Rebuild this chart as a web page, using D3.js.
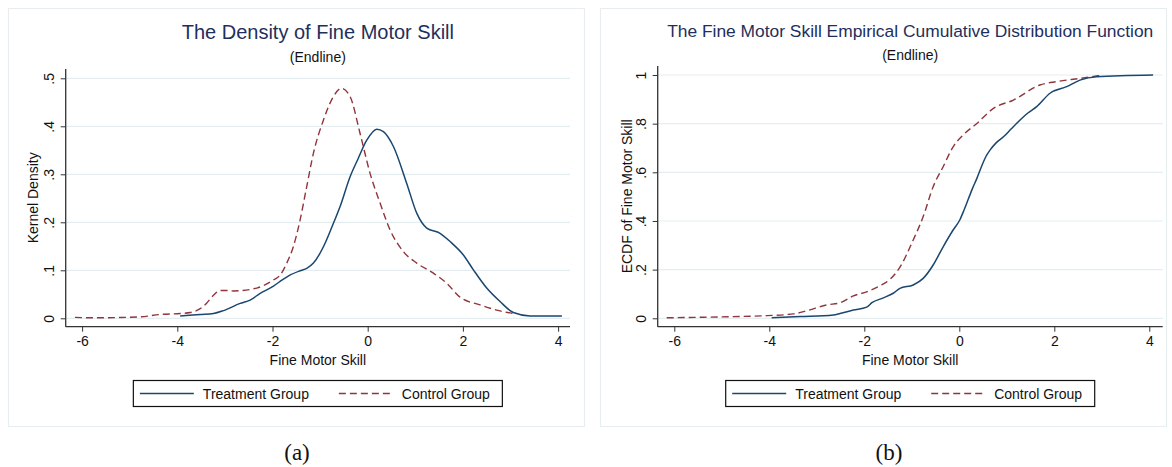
<!DOCTYPE html>
<html>
<head>
<meta charset="utf-8">
<script src="https://cdn.jsdelivr.net/npm/d3@7"></script>
<style>
  html, body { margin: 0; padding: 0; background: #ffffff; }
  svg { display: block; }
</style>
</head>
<body>
<svg id="chart" width="1172" height="467"></svg>
<script>
// ---------------- DATA ----------------
const xTicks = [-6, -4, -2, 0, 2, 4];
const densityTicks = [0, 0.1, 0.2, 0.3, 0.4, 0.5];
const ecdfTicks = [0, 0.2, 0.4, 0.6, 0.8, 1];
const seriesNames = ["Treatment Group", "Control Group"];

// Kernel density, treatment group  [skill, density]
const treatmentDensity = [
  [-3.94,0.005],[-3.52,0.008],[-3.24,0.010],[-3.03,0.016],[-2.68,0.031],[-2.47,0.038],
  [-2.26,0.052],[-1.98,0.067],[-1.84,0.077],[-1.67,0.088],[-1.42,0.099],[-1.28,0.104],
  [-1.14,0.115],[-0.93,0.149],[-0.72,0.198],[-0.58,0.233],[-0.37,0.295],[-0.20,0.333],
  [-0.02,0.371],[0.19,0.394],[0.33,0.389],[0.54,0.358],[0.82,0.281],[1.03,0.219],
  [1.24,0.188],[1.52,0.177],[1.73,0.160],[2.01,0.132],[2.22,0.101],[2.50,0.063],
  [2.78,0.035],[3.06,0.012],[3.41,0.005],[4.08,0.005]
];
// Kernel density, control group
const controlDensity = [
  [-6.15,0.002],[-5.76,0.001],[-4.78,0.003],[-4.36,0.008],[-3.94,0.010],[-3.73,0.012],
  [-3.52,0.020],[-3.38,0.032],[-3.24,0.048],[-3.10,0.058],[-2.96,0.058],[-2.82,0.057],
  [-2.33,0.063],[-1.98,0.080],[-1.84,0.090],[-1.70,0.115],[-1.56,0.150],[-1.42,0.205],
  [-1.28,0.275],[-1.14,0.344],[-0.93,0.413],[-0.72,0.462],[-0.55,0.479],[-0.37,0.462],
  [-0.16,0.385],[0.05,0.302],[0.26,0.240],[0.47,0.184],[0.75,0.139],[1.03,0.115],
  [1.38,0.094],[1.66,0.073],[1.94,0.044],[2.36,0.028],[2.71,0.017],[3.06,0.010]
];
// ECDF, treatment group [skill, cumulative share]
const treatmentEcdf = [
  [-3.95,0.002],[-3.35,0.007],[-2.65,0.014],[-2.51,0.020],[-2.23,0.034],[-1.95,0.046],
  [-1.84,0.064],[-1.60,0.084],[-1.39,0.103],[-1.25,0.123],[-0.97,0.137],[-0.76,0.164],
  [-0.55,0.219],[-0.34,0.294],[-0.13,0.363],[0.01,0.404],[0.10,0.445],[0.19,0.490],
  [0.28,0.535],[0.37,0.575],[0.47,0.625],[0.56,0.665],[0.65,0.692],[0.78,0.722],
  [0.93,0.746],[1.10,0.780],[1.28,0.815],[1.45,0.845],[1.63,0.870],[1.91,0.925],
  [2.26,0.952],[2.54,0.979],[2.89,0.993],[4.08,1.0]
];
// ECDF, control group
const controlEcdf = [
  [-6.16,0.002],[-4.76,0.007],[-4.05,0.011],[-3.49,0.018],[-3.21,0.031],[-2.79,0.055],
  [-2.51,0.064],[-2.23,0.092],[-1.95,0.109],[-1.67,0.134],[-1.46,0.160],[-1.25,0.210],
  [-0.97,0.322],[-0.76,0.418],[-0.55,0.541],[-0.34,0.623],[-0.13,0.705],[0.08,0.753],
  [0.37,0.801],[0.72,0.863],[1.14,0.897],[1.70,0.959],[2.05,0.973],[2.54,0.986],[3.03,1.0]
];

// ---------------- STYLE ----------------
const FONT = "'Liberation Sans', Arial, Helvetica, sans-serif";
const TITLE_COLOR = "#1f2f5c";
const TREAT_COLOR = "#1a476f";
const CONTROL_COLOR = "#90353b";
const GRID_COLOR = "#e4eef0";
const AXIS_COLOR = "#333333";

const svg = d3.select("#chart");
svg.append("rect").attr("width", 1172).attr("height", 467).attr("fill", "#ffffff");

const stataFmt = d => d === 0 ? "0" : (d === 1 ? "1" : d3.format(".1f")(d).replace(/^0/, ""));
const plainInt = d => String(d);

function panel(cfg) {
  const g = svg.append("g");
  g.append("rect")
    .attr("x", cfg.box[0] + 0.5).attr("y", cfg.box[1] + 0.5)
    .attr("width", cfg.box[2]).attr("height", cfg.box[3])
    .attr("fill", "none").attr("stroke", "#e6eef0").attr("stroke-width", 1.2);

  const x = d3.scaleLinear().domain([-6, 4]).range(cfg.xRange);
  const y = d3.scaleLinear().domain([0, cfg.yMax]).range(cfg.yRange);

  g.append("g").selectAll("line").data(cfg.yTicks).join("line")
    .attr("x1", cfg.plotLeft).attr("x2", cfg.plotRight)
    .attr("y1", d => y(d)).attr("y2", d => y(d))
    .attr("stroke", GRID_COLOR).attr("stroke-width", 1.2);

  const xa = g.append("g")
    .attr("transform", `translate(0,${cfg.axisY})`)
    .call(d3.axisBottom(x).tickValues(xTicks).tickSize(5).tickPadding(4)
      .tickFormat(plainInt).tickSizeOuter(0));
  xa.select(".domain").remove();
  xa.append("line").attr("x1", cfg.plotLeft).attr("x2", cfg.plotRight)
    .attr("y1", 0).attr("y2", 0).attr("stroke", AXIS_COLOR).attr("stroke-width", 1.3);
  xa.selectAll(".tick line").attr("stroke", AXIS_COLOR);
  xa.selectAll(".tick text").attr("fill", "#111").style("font-family", FONT).style("font-size", "14px");

  const ya = g.append("g")
    .attr("transform", `translate(${cfg.plotLeft},0)`)
    .call(d3.axisLeft(y).tickValues(cfg.yTicks).tickSize(5).tickFormat(stataFmt).tickSizeOuter(0));
  ya.select(".domain").remove();
  ya.append("line").attr("x1", 0).attr("x2", 0)
    .attr("y1", cfg.axisTop).attr("y2", cfg.axisY).attr("stroke", AXIS_COLOR).attr("stroke-width", 1.3);
  ya.selectAll(".tick line").attr("stroke", AXIS_COLOR);
  ya.selectAll(".tick text")
    .attr("transform", "rotate(-90)")
    .attr("x", 0).attr("y", -12).attr("dy", 0)
    .attr("text-anchor", "middle")
    .attr("fill", "#111").style("font-family", FONT).style("font-size", "14px");

  const line = d3.line().x(d => x(d[0])).y(d => y(d[1])).curve(d3.curveMonotoneX);
  g.append("path").datum(cfg.control).attr("d", line)
    .attr("fill", "none").attr("stroke", CONTROL_COLOR).attr("stroke-width", 1.4)
    .attr("stroke-dasharray", "7,4");
  g.append("path").datum(cfg.treatment).attr("d", line)
    .attr("fill", "none").attr("stroke", TREAT_COLOR).attr("stroke-width", 1.5);

  const cx = (cfg.plotLeft + cfg.plotRight) / 2;
  g.append("text").attr("x", cx).attr("y", cfg.titleY).attr("text-anchor", "middle")
    .attr("fill", TITLE_COLOR).style("font-family", FONT).style("font-size", cfg.titleSize + "px")
    .text(cfg.title);
  g.append("text").attr("x", cx).attr("y", cfg.subY).attr("text-anchor", "middle")
    .attr("fill", "#111").style("font-family", FONT).style("font-size", "14px")
    .text("(Endline)");

  g.append("text").attr("x", cx).attr("y", 365).attr("text-anchor", "middle")
    .attr("fill", "#111").style("font-family", FONT).style("font-size", "14px")
    .text("Fine Motor Skill");
  g.append("text")
    .attr("transform", `translate(${cfg.yTitleX},${(cfg.axisTop + cfg.axisY) / 2}) rotate(-90)`)
    .attr("text-anchor", "middle")
    .attr("fill", "#111").style("font-family", FONT).style("font-size", "14px")
    .text(cfg.yTitle);

  const lx = cx - 184.5, ly = 380.5;
  const lg = g.append("g");
  lg.append("rect").attr("x", lx).attr("y", ly).attr("width", 369).attr("height", 26)
    .attr("fill", "#fff").attr("stroke", "#111").attr("stroke-width", 1.2);
  lg.append("line").attr("x1", lx + 6.5).attr("x2", lx + 60.5).attr("y1", ly + 13).attr("y2", ly + 13)
    .attr("stroke", TREAT_COLOR).attr("stroke-width", 1.5);
  lg.append("text").attr("x", lx + 69.5).attr("y", ly + 18).attr("fill", "#111")
    .style("font-family", FONT).style("font-size", "14px").text(seriesNames[0]);
  lg.append("line").attr("x1", lx + 205.5).attr("x2", lx + 259.5).attr("y1", ly + 13).attr("y2", ly + 13)
    .attr("stroke", CONTROL_COLOR).attr("stroke-width", 1.4).attr("stroke-dasharray", "7,4");
  lg.append("text").attr("x", lx + 268.5).attr("y", ly + 18).attr("fill", "#111")
    .style("font-family", FONT).style("font-size", "14px").text(seriesNames[1]);

  svg.append("text").attr("x", cfg.captionX).attr("y", 460).attr("text-anchor", "middle")
    .attr("fill", "#111").style("font-family", "'Liberation Serif', 'Times New Roman', serif")
    .style("font-size", "23px").text(cfg.caption);
}

panel({
  box: [8, 8, 576, 418],
  xRange: [82.1, 558.1], yRange: [318.3, 78.3], yMax: 0.5,
  plotLeft: 65.7, plotRight: 570, axisY: 326.7, axisTop: 69,
  yTicks: densityTicks,
  treatment: treatmentDensity, control: controlDensity,
  title: "The Density of Fine Motor Skill", titleSize: 20, titleY: 39, subY: 62,
  yTitle: "Kernel Density", yTitleX: 37.5,
  caption: "(a)", captionX: 297
});

panel({
  box: [600, 8, 566, 418],
  xRange: [674.3, 1149.3], yRange: [318.3, 75], yMax: 1,
  plotLeft: 657.7, plotRight: 1162.7, axisY: 326.7, axisTop: 66,
  yTicks: ecdfTicks,
  treatment: treatmentEcdf, control: controlEcdf,
  title: "The Fine Motor Skill Empirical Cumulative Distribution Function", titleSize: 17.4, titleY: 37, subY: 60,
  yTitle: "ECDF of Fine Motor Skill", yTitleX: 632,
  caption: "(b)", captionX: 889
});
</script>
</body>
</html>
